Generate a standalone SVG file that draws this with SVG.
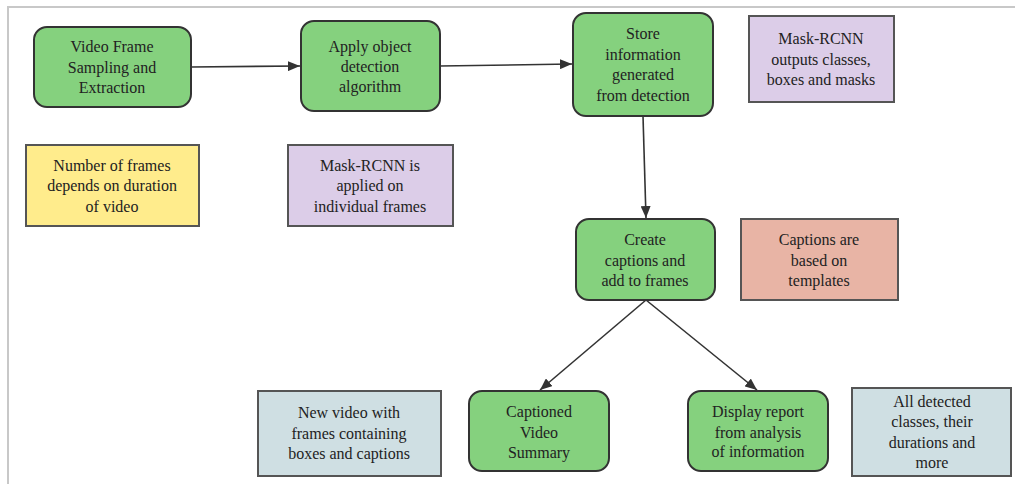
<svg xmlns="http://www.w3.org/2000/svg" width="1015" height="484" viewBox="0 0 1015 484">
<style>
text{font-family:"Liberation Serif","Times New Roman",serif;font-size:16px;fill:#222;text-anchor:middle}
.g{fill:#85d17e;stroke:#333;stroke-width:2}
.n{stroke:#555;stroke-width:2}
.p{fill:#dccde8}
.y{fill:#ffec8c}
.r{fill:#e8b4a5}
.b{fill:#cfdfe3}
.c{stroke:#333;stroke-width:1.6;fill:none;marker-end:url(#ah)}
</style>
<defs>
<marker id="ah" viewBox="0 0 12 10" refX="12" refY="5" markerWidth="12" markerHeight="10" markerUnits="userSpaceOnUse" orient="auto">
<path d="M0,0 L12,5 L0,10 z" fill="#333"/>
</marker>
</defs>
<rect width="1015" height="484" fill="#fff"/>
<path d="M8,484 V7 H1015" fill="none" stroke="#c8c8c8" stroke-width="2"/>
<g id="connectors">
<line class="c" x1="191" y1="67" x2="300" y2="66"/>
<line class="c" x1="440" y1="66" x2="572" y2="64"/>
<line class="c" x1="643" y1="116" x2="646" y2="218"/>
<line class="c" x1="646" y1="300" x2="540" y2="390"/>
<line class="c" x1="646" y1="300" x2="757" y2="390"/>
</g>
<g id="n1"><rect class="g" x="34" y="27" width="157" height="80" rx="13"/><text x="112" y="52">Video Frame</text><text x="112" y="73">Sampling and</text><text x="112" y="93">Extraction</text></g>
<g id="n2"><rect class="g" x="301" y="21" width="139" height="90" rx="13"/><text x="370" y="52">Apply object</text><text x="370" y="72">detection</text><text x="370" y="92">algorithm</text></g>
<g id="n3"><rect class="g" x="573" y="13" width="140" height="103" rx="13"/><text x="643" y="39">Store</text><text x="643" y="60">information</text><text x="643" y="80">generated</text><text x="643" y="101">from detection</text></g>
<g id="note1"><rect class="n p" x="749" y="16" width="145" height="86"/><text x="821" y="44">Mask-RCNN</text><text x="821" y="65">outputs classes,</text><text x="821" y="85">boxes and masks</text></g>
<g id="note2"><rect class="n y" x="26" y="145" width="173" height="81"/><text x="112" y="171">Number of frames</text><text x="112" y="191">depends on duration</text><text x="112" y="212">of video</text></g>
<g id="note3"><rect class="n p" x="288" y="145" width="165" height="81"/><text x="370" y="171">Mask-RCNN is</text><text x="370" y="191">applied on</text><text x="370" y="212">individual frames</text></g>
<g id="n4"><rect class="g" x="576" y="219" width="139" height="81" rx="13"/><text x="645" y="245">Create</text><text x="645" y="266">captions and</text><text x="645" y="286">add to frames</text></g>
<g id="note4"><rect class="n r" x="741" y="219" width="157" height="81"/><text x="819" y="245">Captions are</text><text x="819" y="266">based on</text><text x="819" y="286">templates</text></g>
<g id="note5"><rect class="n b" x="258" y="391" width="183" height="85"/><text x="349" y="418">New video with</text><text x="349" y="439">frames containing</text><text x="349" y="459">boxes and captions</text></g>
<g id="n5"><rect class="g" x="469" y="391" width="140" height="80" rx="13"/><text x="539" y="417">Captioned</text><text x="539" y="438">Video</text><text x="539" y="458">Summary</text></g>
<g id="n6"><rect class="g" x="688" y="391" width="140" height="80" rx="13"/><text x="758" y="417">Display report</text><text x="758" y="438">from analysis</text><text x="758" y="457">of information</text></g>
<g id="note6"><rect class="n b" x="852" y="388" width="159" height="88"/><text x="932" y="407">All detected</text><text x="932" y="427">classes, their</text><text x="932" y="448">durations and</text><text x="932" y="468">more</text></g>
</svg>
